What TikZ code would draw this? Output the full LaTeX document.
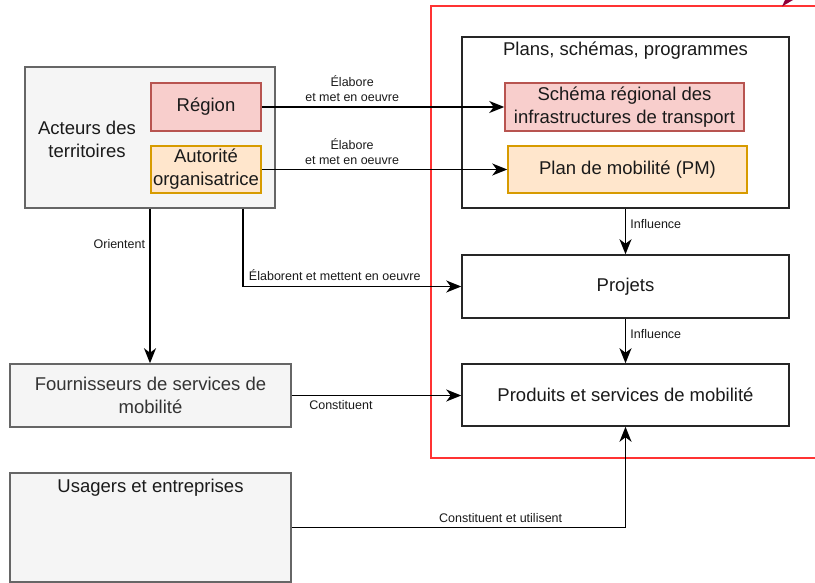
\documentclass[tikz,border=0pt]{standalone}
\usepackage{fontspec}
\setmainfont{Liberation Sans}
\usetikzlibrary{arrows.meta,calc}
\definecolor{regfill}{HTML}{F8CECC}
\definecolor{regline}{HTML}{B85450}
\definecolor{aofill}{HTML}{FFE6CC}
\definecolor{aoline}{HTML}{D79B00}
\definecolor{grayfill}{HTML}{F5F5F5}
\definecolor{grayline}{HTML}{666666}
\definecolor{graytext}{HTML}{333333}
\definecolor{framered}{HTML}{FF3333}
\definecolor{tipred}{HTML}{8F0038}
\definecolor{labeltext}{HTML}{1A1A1A}
\begin{document}
\begin{tikzpicture}[x=1pt,y=-1pt,
  box/.style={draw, line width=1.5pt, inner sep=0pt, align=center,
    font=\fontsize{18.5}{23}\selectfont, text=labeltext},
  whitebox/.style={box, fill=white, draw=black!85},
  graybox/.style={box, fill=grayfill, draw=grayline, text=graytext},
  redbox/.style={box, fill=regfill, draw=regline},
  orangebox/.style={box, fill=aofill, draw=aoline},
  boxtitle/.style={inner sep=0pt, align=center,
    font=\fontsize{18.5}{23}\selectfont, text=labeltext},
  link/.style={line width=1.9pt, -{Stealth[length=15pt,width=12pt,inset=4.5pt]}},
  edgelabel/.style={font=\fontsize{12.5}{15}\selectfont, align=center,
    inner sep=1pt, text=labeltext},
]
\useasboundingbox (0,0) rectangle (815,583);

% highlighted area around plans, projects and services
\node[draw=framered, line width=1.5pt, minimum width=399pt, minimum height=452pt,
  inner sep=0pt] (frame) at (630.5,232) {};
\fill[tipred] (782,6.5) -- (785,0) -- (793,0) -- cycle;

% territorial actors
\node[graybox, minimum width=250pt, minimum height=141pt] (actors) at (150,137.5) {};
\node[boxtitle] (actorstext) at (87,139) {Acteurs des\\territoires};
\node[redbox, minimum width=110pt, minimum height=48pt] (region) at (206,107) {Région};
\node[orangebox, minimum width=110pt, minimum height=47pt] (ao) at (206,169.5) {Autorité\\organisatrice};

% plans and programmes
\node[whitebox, minimum width=327pt, minimum height=171pt] (plans) at (625.5,122.5) {};
\node[boxtitle] (planstitle) at (625.5,51) {Plans, schémas, programmes};
\node[redbox, minimum width=239pt, minimum height=48pt] (schema) at (624.5,107)
  {Schéma régional des\\infrastructures de transport};
\node[orangebox, minimum width=239pt, minimum height=47pt] (pm) at (627.5,169.5)
  {Plan de mobilité (PM)};

% projects and services
\node[whitebox, minimum width=327pt, minimum height=63pt] (projets) at (625.5,286.5) {Projets};
\node[whitebox, minimum width=327pt, minimum height=62pt] (produits) at (625.5,395)
  {Produits et services de mobilité};

% other stakeholders
\node[graybox, minimum width=281pt, minimum height=63pt] (fourn) at (150.5,395.5)
  {Fournisseurs de services de\\mobilité};
\node[graybox, minimum width=281pt, minimum height=109pt] (usagers) at (150.5,527.5) {};
\node[boxtitle] (usagerstitle) at (150.5,488) {Usagers et entreprises};

% connectors
\draw[link] (region) -- node[edgelabel, pos=0.373, above=3pt]
  {Élabore\\et met en oeuvre} (schema);
\draw[link] (ao.east) -- node[edgelabel, pos=0.368, above=3pt]
  {Élabore\\et met en oeuvre} (ao.east -| pm.west);
\draw[link] (plans) -- node[edgelabel, pos=0.34, right=3pt] {Influence} (projets);
\draw[link] (projets) -- node[edgelabel, pos=0.34, right=3pt] {Influence} (produits);
\draw[link] (actors.south) -- node[edgelabel, pos=0.23, left=3pt] {Orientent}
  (actors.south |- fourn.north);
\coordinate (elab) at ($(actors.south west)+(219,0)$);
\draw[link] (elab) |- node[edgelabel, pos=0.71, above=4pt]
  {Élaborent et mettent en oeuvre} (projets);
\draw[link] (fourn.east) -- node[edgelabel, pos=0.29, below=3pt] {Constituent}
  (fourn.east -| produits.west);
\draw[link] (usagers) -| node[edgelabel, pos=0.313, above=3pt]
  {Constituent et utilisent} (produits);
\end{tikzpicture}
\end{document}
